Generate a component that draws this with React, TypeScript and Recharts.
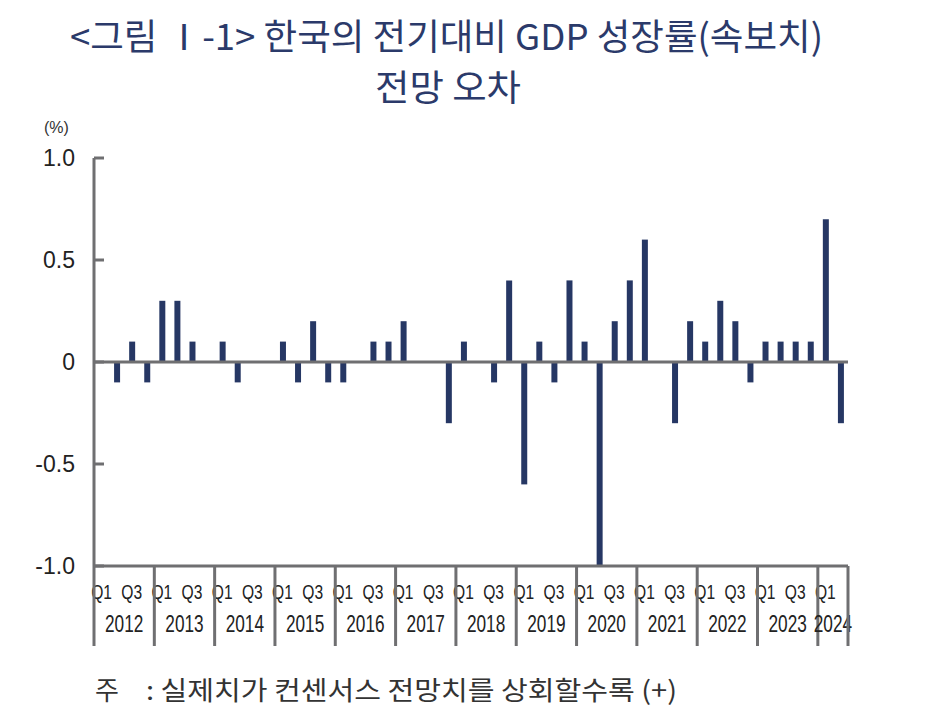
import { Bar, BarChart, ReferenceLine, XAxis, YAxis } from "recharts"

const years = ["2012", "2013", "2014", "2015", "2016", "2017", "2018", "2019", "2020", "2021", "2022", "2023", "2024"]

// 전망 오차 (%p), 2012Q1 ~ 2024Q2
const errors = [
  0, -0.1, 0.1, -0.1,
  0.3, 0.3, 0.1, 0,
  0.1, -0.1, 0, 0,
  0.1, -0.1, 0.2, -0.1,
  -0.1, 0, 0.1, 0.1,
  0.2, 0, 0, -0.3,
  0.1, 0, -0.1, 0.4,
  -0.6, 0.1, -0.1, 0.4,
  0.1, -1.0, 0.2, 0.4,
  0.6, 0, -0.3, 0.2,
  0.1, 0.3, 0.2, -0.1,
  0.1, 0.1, 0.1, 0.1,
  0.7, -0.3,
]

const yTicks = [-1, -0.5, 0, 0.5, 1]
const quarterLabels = ["Q1", "", "Q3", ""]

const data = errors.map((v, i) => ({
  key: `${years[Math.floor(i / 4)]}Q${(i % 4) + 1}`,
  year: years[Math.floor(i / 4)],
  q: (i % 4) + 1,
  value: v,
}))

const PLOT_LEFT = 94
const PLOT_RIGHT = 848
const PLOT_TOP = 158
const PLOT_BOTTOM = 566
const BW = (PLOT_RIGHT - PLOT_LEFT) / data.length
const AXIS = "#6f6f71"
const NAVY = "#263764"
const TITLE = "#2b3a6a"

const quartersInYear = (y: string) => data.filter((d) => d.year === y).length

function XTick(props: any) {
  const { x, payload } = props
  const d = data[payload.index]
  if (!d) return null
  const label = quarterLabels[d.q - 1]
  const isLast = payload.index === data.length - 1
  return (
    <g>
      {label && (
        <text
          transform={`translate(${x},${599}) scale(0.78,1)`}
          textAnchor="middle"
          fontFamily="Liberation Sans"
          fontSize={20}
          fill="#222"
        >
          {label}
        </text>
      )}
      {d.q === 1 && (
        <>
          <line x1={x - BW / 2} x2={x - BW / 2} y1={PLOT_BOTTOM} y2={646} stroke={AXIS} strokeWidth={3} />
          <text
            transform={`translate(${x - BW / 2 + (quartersInYear(d.year) * BW) / 2},${632}) scale(0.75,1)`}
            textAnchor="middle"
            fontFamily="Liberation Sans"
            fontSize={23}
            fill="#222"
          >
            {d.year}
          </text>
        </>
      )}
      {isLast && <line x1={x + BW / 2} x2={x + BW / 2} y1={PLOT_BOTTOM} y2={646} stroke={AXIS} strokeWidth={3} />}
    </g>
  )
}

function YTick(props: any) {
  const { y, payload } = props
  const v = payload.value
  const text = v === 0 ? "0" : v.toFixed(1)
  return (
    <g>
      <line x1={PLOT_LEFT} x2={PLOT_LEFT + 10} y1={y} y2={y} stroke={AXIS} strokeWidth={3} />
      <text x={75} y={y + 8} textAnchor="end" fontFamily="Liberation Sans" fontSize={23} fill="#222">
        {text}
      </text>
    </g>
  )
}

export default function App() {
  return (
    <div style={{ position: "absolute", left: 0, top: 0, width: 944, height: 715, background: "#fff" }}>
      <div style={{ position: "absolute", left: 0, top: 0 }}>
        <BarChart
          width={944}
          height={715}
          data={data}
          margin={{ top: PLOT_TOP, right: 944 - PLOT_RIGHT, bottom: 715 - PLOT_BOTTOM - 100, left: PLOT_LEFT - 60 }}
          barSize={6}
        >
          <XAxis
            dataKey="key"
            interval={0}
            height={100}
            axisLine={{ stroke: AXIS, strokeWidth: 3 }}
            tickLine={false}
            tick={<XTick />}
          />
          <XAxis xAxisId="top" dataKey="key" orientation="top" height={0} axisLine={{ stroke: AXIS, strokeWidth: 3 }} tick={false} tickLine={false} />
          <YAxis
            domain={[-1, 1]}
            ticks={yTicks}
            width={60}
            axisLine={{ stroke: AXIS, strokeWidth: 3 }}
            tickLine={false}
            tick={<YTick />}
          />
          <YAxis yAxisId="right" orientation="right" width={0} domain={[-1, 1]} axisLine={{ stroke: AXIS, strokeWidth: 3 }} tick={false} tickLine={false} />
          <ReferenceLine y={0} stroke={AXIS} strokeWidth={3} />
          <Bar dataKey="value" fill={NAVY} isAnimationActive={false} />
        </BarChart>
      </div>
      <svg width={944} height={715} style={{ position: "absolute", left: 0, top: 0, pointerEvents: "none" }}>
        <text
          x={70}
          y={50}
          textLength={753}
          lengthAdjust="spacingAndGlyphs"
          fontFamily="Noto Sans CJK KR"
          fontWeight={400}
          fontSize={36}
          fill={TITLE}
        >
          {"<그림  Ⅰ-1> 한국의 전기대비 GDP 성장률(속보치)"}
        </text>
        <text
          x={375}
          y={101}
          textLength={146}
          lengthAdjust="spacingAndGlyphs"
          fontFamily="Noto Sans CJK KR"
          fontWeight={400}
          fontSize={36}
          fill={TITLE}
        >
          전망 오차
        </text>
        <text x={44} y={133} fontFamily="Liberation Sans" fontSize={16} fill="#333">
          (%)
        </text>
        <text x={95} y={700} fontFamily="Noto Sans CJK KR" fontSize={26} fill="#333">
          주
        </text>
        <text
          x={146}
          y={700}
          textLength={531}
          lengthAdjust="spacingAndGlyphs"
          fontFamily="Noto Sans CJK KR"
          fontSize={26}
          fill="#333"
        >
          {": 실제치가 컨센서스 전망치를 상회할수록 (+)"}
        </text>
      </svg>
    </div>
  )
}
